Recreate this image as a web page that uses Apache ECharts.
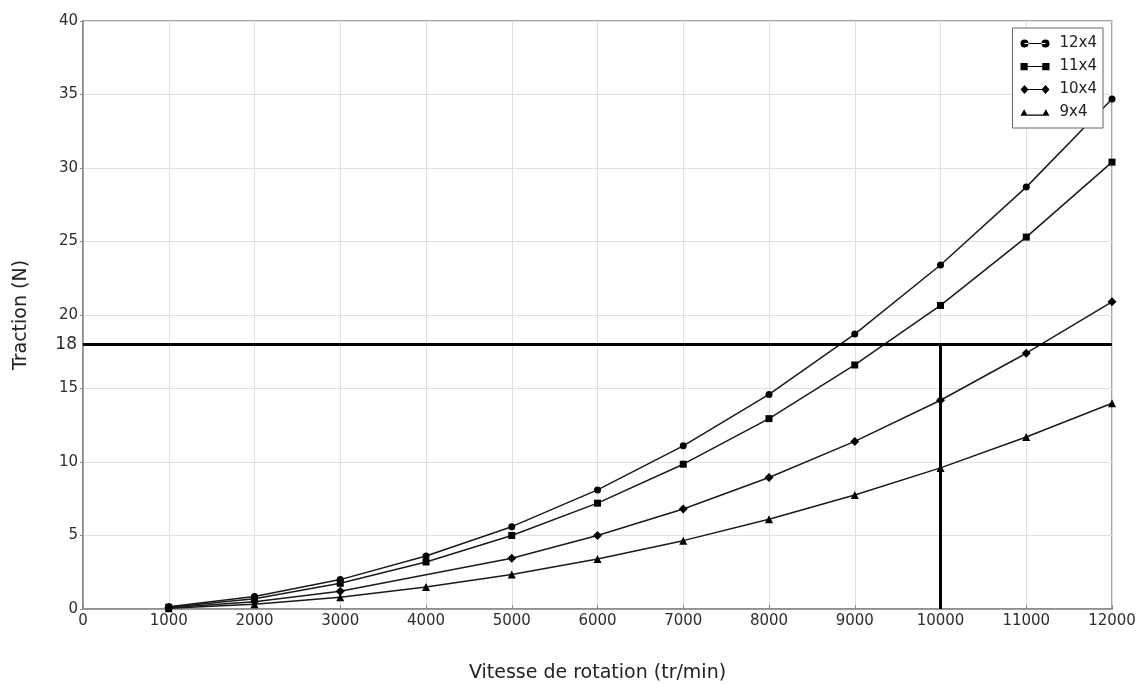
<!DOCTYPE html>
<html>
<head>
<meta charset="utf-8">
<script src="https://cdn.jsdelivr.net/npm/echarts@6/dist/echarts.min.js"></script>
<style>
  html, body { margin: 0; padding: 0; background: #fff; }
  #chart { width: 1137px; height: 684px; }
</style>
</head>
<body>
<div id="chart"></div>
<script>
// vitesse de rotation (tr/min)
const rpm = [1000, 2000, 3000, 4000, 5000, 6000, 7000, 8000, 9000, 10000, 11000, 12000];

// traction (N) par hélice
const prop12x4 = [0.15, 0.85, 2.0, 3.6, 5.6, 8.1, 11.1, 14.6, 18.7, 23.4, 28.7, 34.7];
const prop11x4 = [0.12, 0.7, 1.75, 3.2, 5.0, 7.2, 9.85, 12.95, 16.6, 20.65, 25.3, 30.4];
const prop10x4 = [0.08, 0.5, 1.2, null, 3.45, 5.0, 6.8, 8.95, 11.4, 14.2, 17.4, 20.9];
const prop9x4 = [0.05, 0.33, 0.8, 1.5, 2.35, 3.4, 4.65, 6.1, 7.75, 9.6, 11.7, 14.0];

const seriesNames = ["12x4", "11x4", "10x4", "9x4"];
const seriesValues = [prop12x4, prop11x4, prop10x4, prop9x4];
const markers = ["circle", "rect", "diamond", "triangle"];
const markerSizes = [7, 7, 9, 8];

// traction requise / régime de fonctionnement
const refTraction = 18;
const refRpm = 10000;

const LINE = "M4,4.4H25V5.6H4Z";
const legendIcons = [
  "path://M0,5a4,4 0 1,0 8,0a4,4 0 1,0 -8,0Z M21,5a4,4 0 1,0 8,0a4,4 0 1,0 -8,0Z " + LINE,
  "path://M0.5,1.5H7.5V8.5H0.5Z M21.5,1.5H28.5V8.5H21.5Z " + LINE,
  "path://M0,5L4,0.5L8,5L4,9.5Z M21,5L25,0.5L29,5L25,9.5Z " + LINE,
  "path://M0.5,9L4,2.5L7.5,9Z M21.5,9L25,2.5L28.5,9Z M4,7.6H25V8.8H4Z",
];

const textColor = "#2e2e2e";
const font = "DejaVu Sans";

const chart = echarts.init(document.getElementById("chart"), null, { renderer: "canvas" });

const series = seriesNames.map((name, i) => ({
  name: name,
  type: "line",
  data: rpm.map((x, k) => [x, seriesValues[i][k]]),
  connectNulls: true,
  symbol: markers[i],
  symbolSize: markerSizes[i],
  showAllSymbol: true,
  lineStyle: { color: "#1a1a1a", width: 1.5 },
  itemStyle: { color: "#000" },
  emphasis: { disabled: true },
  animation: false,
  z: 3,
}));

series.push({
  name: "ref",
  type: "line",
  data: [],
  animation: false,
  markLine: {
    silent: true,
    symbol: ["none", "none"],
    lineStyle: { color: "#000", width: 3, type: "solid" },
    animation: false,
    data: [
      [
        {
          coord: [0, refTraction],
          label: {
            show: true,
            position: "start",
            formatter: String(refTraction),
            color: textColor,
            fontFamily: font,
            fontSize: 17,
            distance: 6,
          },
        },
        { coord: [12000, refTraction] },
      ],
      [
        { coord: [refRpm, 0], label: { show: false } },
        { coord: [refRpm, refTraction] },
      ],
    ],
  },
  z: 4,
});

chart.setOption({
  backgroundColor: "#fff",
  animation: false,
  grid: {
    left: 83,
    right: 25,
    top: 21,
    bottom: 75,
    outerBoundsMode: "none",
    containLabel: false,
    show: true,
    borderColor: "#888",
    borderWidth: 1.5,
  },
  legend: {
    data: seriesNames.map((n, i) => ({ name: n, icon: legendIcons[i] })),
    orient: "vertical",
    right: 34,
    top: 28,
    itemWidth: 29,
    itemHeight: 10,
    itemGap: 8,
    padding: [8, 6, 8, 8],
    backgroundColor: "#fff",
    borderColor: "#666",
    borderWidth: 1,
    borderRadius: 0,
    selectedMode: false,
    textStyle: { color: "#222", fontFamily: font, fontSize: 15, padding: [0, 0, 0, 5] },
    itemStyle: { color: "#000" },
    lineStyle: { width: 0 },
  },
  xAxis: {
    type: "value",
    min: 0,
    max: 12000,
    interval: 1000,
    name: "Vitesse de rotation (tr/min)",
    nameLocation: "middle",
    nameGap: 55,
    nameTextStyle: { color: "#222", fontFamily: font, fontSize: 19 },
    axisLine: { show: true, lineStyle: { color: "#888", width: 1.5 } },
    axisTick: { show: true, inside: true, length: 4, lineStyle: { color: "#888" } },
    axisLabel: {
      color: textColor,
      fontFamily: font,
      fontSize: 15,
      margin: 5,
      formatter: (v) => String(v),
    },
    splitLine: { show: true, lineStyle: { color: "#e0e0e0", width: 1 } },
  },
  yAxis: {
    type: "value",
    min: 0,
    max: 40,
    interval: 5,
    name: "Traction (N)",
    nameLocation: "middle",
    nameGap: 52,
    nameTextStyle: { color: "#222", fontFamily: font, fontSize: 19 },
    axisLine: { show: true, lineStyle: { color: "#888", width: 1.5 } },
    axisTick: { show: true, inside: false, length: 3, lineStyle: { color: "#888" } },
    axisLabel: { color: textColor, fontFamily: font, fontSize: 15, margin: 5 },
    splitLine: { show: true, lineStyle: { color: "#e0e0e0", width: 1 } },
  },
  series: series,
});
</script>
</body>
</html>
